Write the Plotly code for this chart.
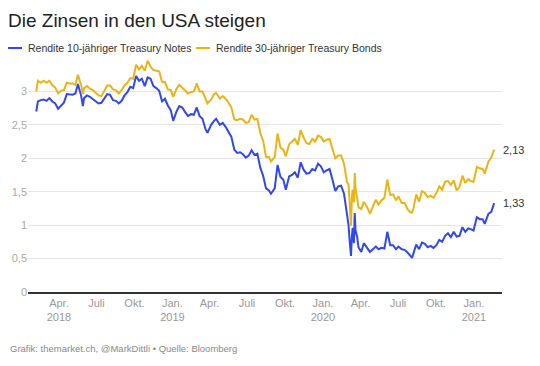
import plotly.graph_objects as go

# ---------------- data ----------------
dates = [
    # 2018
    "2018-02-05", "2018-02-09", "2018-02-16", "2018-02-23", "2018-03-02", "2018-03-09",
    "2018-03-16", "2018-03-23", "2018-03-30", "2018-04-06", "2018-04-13", "2018-04-20",
    "2018-04-27", "2018-05-04", "2018-05-11", "2018-05-17", "2018-05-25", "2018-05-29",
    "2018-06-01", "2018-06-08", "2018-06-15", "2018-06-22", "2018-06-29", "2018-07-06",
    "2018-07-13", "2018-07-20", "2018-07-27", "2018-08-03", "2018-08-10", "2018-08-17",
    "2018-08-24", "2018-08-31", "2018-09-07", "2018-09-14", "2018-09-21", "2018-09-28",
    "2018-10-05", "2018-10-12", "2018-10-19", "2018-10-26", "2018-11-02", "2018-11-09",
    "2018-11-16", "2018-11-23", "2018-11-30", "2018-12-07", "2018-12-14", "2018-12-21",
    "2018-12-28",
    # 2019
    "2019-01-03", "2019-01-11", "2019-01-18", "2019-01-25", "2019-02-01", "2019-02-08",
    "2019-02-15", "2019-02-22", "2019-03-01", "2019-03-08", "2019-03-15", "2019-03-22",
    "2019-03-27", "2019-04-05", "2019-04-12", "2019-04-17", "2019-04-26", "2019-05-03",
    "2019-05-10", "2019-05-17", "2019-05-24", "2019-05-31", "2019-06-07", "2019-06-14",
    "2019-06-21", "2019-06-28", "2019-07-05", "2019-07-12", "2019-07-19", "2019-07-26",
    "2019-08-02", "2019-08-09", "2019-08-16", "2019-08-23", "2019-08-28", "2019-09-06",
    "2019-09-13", "2019-09-20", "2019-09-27", "2019-10-03", "2019-10-11", "2019-10-18",
    "2019-10-25", "2019-11-01", "2019-11-08", "2019-11-15", "2019-11-22", "2019-11-29",
    "2019-12-06", "2019-12-13", "2019-12-20", "2019-12-27",
    # 2020
    "2020-01-03", "2020-01-10", "2020-01-17", "2020-01-24", "2020-01-31", "2020-02-07",
    "2020-02-14", "2020-02-21", "2020-02-28", "2020-03-03", "2020-03-06", "2020-03-09",
    "2020-03-11", "2020-03-13", "2020-03-16", "2020-03-18", "2020-03-20", "2020-03-24",
    "2020-03-27", "2020-04-03", "2020-04-09", "2020-04-17", "2020-04-24", "2020-05-01",
    "2020-05-08", "2020-05-15", "2020-05-22", "2020-05-29", "2020-06-05", "2020-06-12",
    "2020-06-19", "2020-06-26", "2020-07-02", "2020-07-10", "2020-07-17", "2020-07-24",
    "2020-07-31", "2020-08-04", "2020-08-07", "2020-08-14", "2020-08-21", "2020-08-28",
    "2020-09-04", "2020-09-11", "2020-09-18", "2020-09-25", "2020-10-02", "2020-10-09",
    "2020-10-16", "2020-10-23", "2020-10-30", "2020-11-06", "2020-11-13", "2020-11-20",
    "2020-11-27", "2020-12-04", "2020-12-11", "2020-12-18", "2020-12-24", "2020-12-31",
    # 2021
    "2021-01-08", "2021-01-15", "2021-01-22", "2021-01-27", "2021-02-05", "2021-02-12",
    "2021-02-19",
]

notes_10y = [
    # 2018
    2.70, 2.85, 2.87, 2.88, 2.86, 2.90, 2.85, 2.82, 2.74, 2.78, 2.83, 2.96,
    2.96, 2.95, 2.97, 3.11, 2.93, 2.78, 2.90, 2.94, 2.92, 2.89, 2.85, 2.82,
    2.83, 2.89, 2.96, 2.95, 2.87, 2.86, 2.82, 2.86, 2.94, 2.99, 3.07, 3.05,
    3.23, 3.16, 3.19, 3.08, 3.21, 3.19, 3.08, 3.05, 3.01, 2.85, 2.89, 2.79,
    2.72,
    # 2019
    2.56, 2.70, 2.78, 2.76, 2.69, 2.63, 2.66, 2.65, 2.76, 2.63, 2.59, 2.44,
    2.38, 2.50, 2.56, 2.59, 2.50, 2.53, 2.47, 2.39, 2.32, 2.13, 2.08, 2.09,
    2.06, 2.01, 2.04, 2.12, 2.05, 2.07, 1.86, 1.74, 1.55, 1.52, 1.47, 1.55,
    1.90, 1.72, 1.68, 1.53, 1.73, 1.75, 1.79, 1.71, 1.94, 1.83, 1.77, 1.78,
    1.84, 1.82, 1.92, 1.88,
    # 2020
    1.79, 1.82, 1.84, 1.68, 1.51, 1.58, 1.59, 1.47, 1.13, 1.00, 0.74, 0.54,
    0.82, 0.96, 0.73, 1.18, 0.92, 0.82, 0.67, 0.60, 0.73, 0.65, 0.60, 0.64,
    0.68, 0.64, 0.66, 0.65, 0.90, 0.70, 0.70, 0.64, 0.68, 0.64, 0.63, 0.59,
    0.53, 0.51, 0.57, 0.71, 0.64, 0.74, 0.72, 0.67, 0.69, 0.66, 0.70, 0.78,
    0.75, 0.84, 0.88, 0.82, 0.90, 0.83, 0.84, 0.97, 0.90, 0.95, 0.94, 0.92,
    # 2021
    1.12, 1.09, 1.09, 1.02, 1.17, 1.20, 1.33,
]

bonds_30y = [
    # 2018
    3.00, 3.16, 3.13, 3.16, 3.13, 3.16, 3.09, 3.06, 2.97, 3.01, 3.02, 3.13,
    3.12, 3.12, 3.10, 3.25, 3.09, 2.96, 3.05, 3.08, 3.04, 3.02, 2.98, 2.94,
    2.93, 3.01, 3.09, 3.09, 3.03, 3.02, 2.97, 3.02, 3.09, 3.13, 3.20, 3.19,
    3.40, 3.33, 3.38, 3.31, 3.46, 3.37, 3.32, 3.31, 3.30, 3.14, 3.14, 3.03,
    3.02,
    # 2019
    2.92, 3.04, 3.10, 3.06, 3.02, 2.97, 2.99, 3.00, 3.12, 3.00, 3.00, 2.88,
    2.82, 2.88, 2.96, 2.98, 2.89, 2.93, 2.89, 2.83, 2.76, 2.58, 2.57, 2.59,
    2.58, 2.53, 2.54, 2.65, 2.58, 2.59, 2.38, 2.26, 2.02, 2.02, 1.95, 2.02,
    2.37, 2.16, 2.13, 2.03, 2.21, 2.25, 2.29, 2.20, 2.42, 2.31, 2.23, 2.21,
    2.29, 2.25, 2.34, 2.32,
    # 2020
    2.25, 2.28, 2.29, 2.14, 2.00, 2.04, 2.04, 1.92, 1.65, 1.61, 1.22, 0.99,
    1.39, 1.53, 1.34, 1.78, 1.55, 1.39, 1.27, 1.24, 1.35, 1.27, 1.17, 1.28,
    1.38, 1.31, 1.37, 1.41, 1.68, 1.45, 1.46, 1.37, 1.43, 1.33, 1.33, 1.24,
    1.19, 1.19, 1.24, 1.46, 1.35, 1.51, 1.48, 1.42, 1.44, 1.41, 1.48, 1.58,
    1.53, 1.65, 1.66, 1.60, 1.67, 1.52, 1.57, 1.74, 1.63, 1.69, 1.66, 1.65,
    # 2021
    1.87, 1.85, 1.84, 1.77, 1.95, 2.01, 2.13,
]

series_names = ["Rendite 10-jähriger Treasury Notes", "Rendite 30-jähriger Treasury Bonds"]
series_colors = ["#3048ee", "#ebb416"]

tick_dates = ["2018-04-01", "2018-07-01", "2018-10-01", "2019-01-01", "2019-04-01", "2019-07-01",
              "2019-10-01", "2020-01-01", "2020-04-01", "2020-07-01", "2020-10-01", "2021-01-01"]
tick_labels = ["Apr.<br>2018", "Juli", "Okt.", "Jan.<br>2019", "Apr.", "Juli",
               "Okt.", "Jan.<br>2020", "Apr.", "Juli", "Okt.", "Jan.<br>2021"]
y_ticks = [0, 0.5, 1, 1.5, 2, 2.5, 3]

title_text = "Die Zinsen in den USA steigen"
footer_text = "Grafik: themarket.ch, @MarkDittli • Quelle: Bloomberg"

# ---------------- layout geometry ----------------
# The page body has an 8px margin, so the figure is drawn 8px smaller and
# every page position p maps to figure position p - 8.
OFF = 8
W, H = 540 - OFF, 366 - OFF
L, R, T, B = 28 - OFF, W - (502 - OFF), 58 - OFF, H - (292 - OFF)
PW, PH = W - L - R, H - T - B


def px(x):  # page x -> paper x
    return (x - OFF - L) / PW


def py(y):  # page y -> paper y
    return (H - B - (y - OFF)) / PH


FONT = "Liberation Sans, Arial, sans-serif"

fig = go.Figure()
for vals, name, col in zip([notes_10y, bonds_30y], series_names, series_colors):
    fig.add_trace(go.Scatter(x=dates, y=vals, mode="lines", name=name,
                             line=dict(color=col, width=2), showlegend=False))

shapes = []
annotations = []

# custom legend
leg_x = [(8, 22, 26), (196, 210, 214)]
for (x0, x1, xt), name, col in zip(leg_x, series_names, series_colors):
    shapes.append(dict(type="line", xref="paper", yref="paper",
                       x0=px(x0), x1=px(x1), y0=py(48), y1=py(48),
                       line=dict(color=col, width=2)))
    annotations.append(dict(text=name, xref="paper", yref="paper", x=px(xt), y=py(48),
                            xanchor="left", yanchor="middle", showarrow=False,
                            font=dict(size=10.5, color="#333333", family=FONT)))

# end value labels
for vals in [bonds_30y, notes_10y]:
    annotations.append(dict(text=f"{vals[-1]:.2f}".replace(".", ","), x=dates[-1], y=vals[-1],
                            xref="x", yref="y", xanchor="left", yanchor="middle", xshift=7,
                            showarrow=False, font=dict(size=11, color="#333333", family=FONT)))

# footer
annotations.append(dict(text=footer_text, xref="paper", yref="paper", x=px(8), y=py(348),
                        xanchor="left", yanchor="middle", showarrow=False,
                        font=dict(size=9.5, color="#8a8a8a", family=FONT)))

fig.update_layout(
    width=W, height=H,
    margin=dict(l=L, r=R, t=T, b=B, autoexpand=False),
    paper_bgcolor="white", plot_bgcolor="white",
    separators=",.",
    font=dict(family=FONT),
    title=dict(text=title_text, x=(8 - OFF) / W, xref="container", xanchor="left",
               y=1 - (20 - OFF) / H, yref="container", yanchor="middle",
               pad=dict(l=0, r=0, t=0, b=0),
               font=dict(size=19, color="#222222", family=FONT)),
    xaxis=dict(type="date", range=["2018-01-16", "2021-03-10"],
               tickvals=tick_dates, ticktext=tick_labels, showgrid=False,
               showline=True, linecolor="#333333", linewidth=1.5, ticks="",
               zeroline=False, automargin=False,
               tickfont=dict(size=11, color="#999999", family=FONT)),
    yaxis=dict(range=[0, 3.5], tickvals=y_ticks, showgrid=True, gridcolor="#e6e6e6",
               gridwidth=1, zeroline=False, showline=False, ticks="", automargin=False,
               tickfont=dict(size=11, color="#aaaaaa", family=FONT)),
    shapes=shapes, annotations=annotations,
)

fig.write_html("out.html")
